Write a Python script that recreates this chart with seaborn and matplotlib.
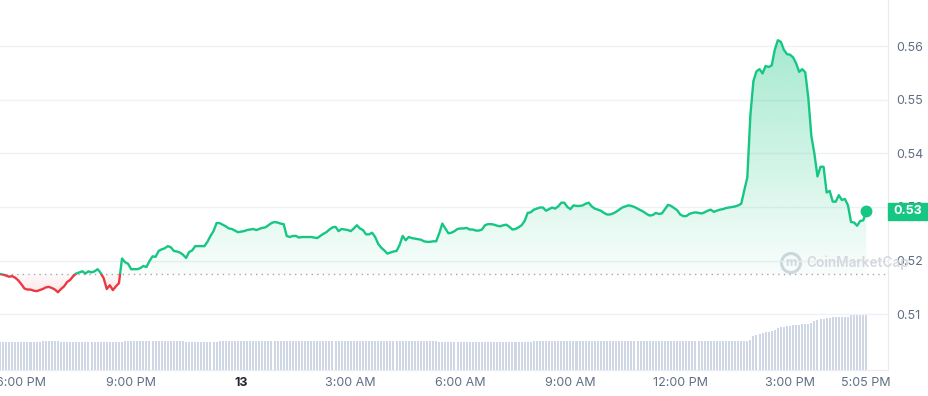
import matplotlib
matplotlib.use("Agg")
import matplotlib.pyplot as plt
import matplotlib.dates as mdates
from matplotlib.patches import Rectangle, Circle
from matplotlib.colors import to_rgb
from matplotlib import transforms
import numpy as np
import pandas as pd
import seaborn as sns

# 24h price chart, 5 minute steps
start_time = "2024-03-12 17:25"
open_price = 0.5175

price = [
    0.5175, 0.5174, 0.5172, 0.5170, 0.5171, 0.5168, 0.5163, 0.5156, 0.5148, 0.5146, 0.5146, 0.5144,
    0.5143, 0.5145, 0.5147, 0.5150, 0.5151, 0.5149, 0.5146, 0.5141, 0.5147, 0.5152, 0.5160, 0.5164,
    0.5171, 0.5176, 0.5178, 0.5180, 0.5176, 0.5180, 0.5178, 0.5180, 0.5184, 0.5177, 0.5167, 0.5147,
    0.5154, 0.5145, 0.5152, 0.5158, 0.5204, 0.5197, 0.5194, 0.5184, 0.5184, 0.5184, 0.5186, 0.5190,
    0.5188, 0.5199, 0.5208, 0.5207, 0.5218, 0.5221, 0.5223, 0.5227, 0.5225, 0.5218, 0.5217, 0.5215,
    0.5211, 0.5205, 0.5216, 0.5219, 0.5227, 0.5227, 0.5227, 0.5227, 0.5235, 0.5246, 0.5255, 0.5270,
    0.5270, 0.5267, 0.5264, 0.5260, 0.5259, 0.5256, 0.5253, 0.5254, 0.5255, 0.5257, 0.5258, 0.5259,
    0.5257, 0.5259, 0.5261, 0.5262, 0.5266, 0.5270, 0.5272, 0.5271, 0.5269, 0.5268, 0.5246, 0.5244,
    0.5246, 0.5246, 0.5243, 0.5244, 0.5244, 0.5244, 0.5244, 0.5243, 0.5242, 0.5246, 0.5250, 0.5253,
    0.5258, 0.5262, 0.5263, 0.5255, 0.5259, 0.5258, 0.5257, 0.5255, 0.5260, 0.5266, 0.5260, 0.5257,
    0.5249, 0.5249, 0.5252, 0.5244, 0.5231, 0.5224, 0.5219, 0.5213, 0.5215, 0.5217, 0.5218, 0.5229,
    0.5246, 0.5238, 0.5244, 0.5242, 0.5241, 0.5240, 0.5239, 0.5236, 0.5235, 0.5235, 0.5236, 0.5236,
    0.5251, 0.5269, 0.5260, 0.5251, 0.5252, 0.5255, 0.5259, 0.5260, 0.5260, 0.5261, 0.5258, 0.5258,
    0.5256, 0.5256, 0.5258, 0.5266, 0.5268, 0.5268, 0.5267, 0.5265, 0.5264, 0.5266, 0.5267, 0.5263,
    0.5258, 0.5259, 0.5262, 0.5266, 0.5274, 0.5289, 0.5290, 0.5295, 0.5297, 0.5299, 0.5299, 0.5293,
    0.5296, 0.5299, 0.5297, 0.5301, 0.5308, 0.5308, 0.5300, 0.5296, 0.5303, 0.5302, 0.5302, 0.5303,
    0.5306, 0.5308, 0.5301, 0.5297, 0.5295, 0.5293, 0.5289, 0.5286, 0.5286, 0.5288, 0.5291, 0.5295,
    0.5299, 0.5301, 0.5303, 0.5302, 0.5300, 0.5297, 0.5294, 0.5291, 0.5287, 0.5284, 0.5285, 0.5289,
    0.5287, 0.5288, 0.5296, 0.5304, 0.5302, 0.5298, 0.5294, 0.5286, 0.5283, 0.5283, 0.5287, 0.5289,
    0.5290, 0.5289, 0.5288, 0.5290, 0.5293, 0.5295, 0.5291, 0.5293, 0.5295, 0.5296, 0.5298, 0.5299,
    0.5300, 0.5301, 0.5303, 0.5306, 0.5331, 0.5355, 0.5471, 0.5535, 0.5553, 0.5557, 0.5549, 0.5563,
    0.5561, 0.5564, 0.5593, 0.5611, 0.5608, 0.5593, 0.5585, 0.5584, 0.5579, 0.5568, 0.5552, 0.5557,
    0.5551, 0.5503, 0.5432, 0.5399, 0.5357, 0.5375, 0.5375, 0.5327, 0.5330, 0.5310, 0.5310, 0.5322,
    0.5313, 0.5315, 0.5303, 0.5272, 0.5271, 0.5265, 0.5274, 0.5275, 0.5292,
]

# rolling 24h volume (millions USD), one bar per 5 min
volume = [
    280, 280, 280, 280, 280, 280, 280, 280, 280, 280, 280, 280,
    280, 280, 290, 290, 290, 290, 290, 290, 280, 280, 280, 280,
    280, 280, 280, 280, 280, 280, 280, 280, 280, 280, 280, 280,
    280, 280, 280, 280, 280, 288, 288, 288, 288, 288, 288, 288,
    288, 288, 288, 288, 288, 288, 288, 288, 288, 288, 288, 288,
    288, 280, 280, 280, 280, 280, 280, 280, 280, 280, 280, 280,
    288, 288, 288, 288, 288, 288, 288, 288, 288, 288, 288, 288,
    288, 288, 288, 288, 288, 286, 286, 286, 286, 286, 286, 286,
    286, 286, 286, 286, 286, 286, 286, 286, 286, 286, 286, 286,
    286, 286, 286, 286, 286, 286, 286, 286, 286, 286, 286, 286,
    286, 286, 286, 286, 286, 286, 286, 286, 286, 286, 286, 286,
    286, 286, 286, 286, 286, 286, 286, 286, 286, 286, 286, 286,
    278, 278, 278, 278, 278, 278, 278, 278, 278, 278, 278, 278,
    278, 278, 278, 278, 278, 278, 278, 278, 278, 278, 278, 278,
    278, 278, 278, 278, 278, 278, 278, 287, 287, 287, 287, 287,
    287, 287, 287, 287, 287, 287, 287, 287, 287, 287, 287, 287,
    287, 287, 287, 287, 287, 287, 287, 287, 287, 287, 287, 287,
    287, 287, 287, 287, 287, 287, 287, 287, 287, 287, 286, 286,
    286, 286, 286, 286, 286, 286, 286, 286, 286, 286, 286, 286,
    286, 286, 286, 286, 286, 286, 286, 286, 286, 286, 286, 286,
    286, 286, 286, 286, 286, 286, 300, 345, 350, 365, 370, 378,
    385, 392, 400, 425, 430, 433, 436, 440, 448, 450, 455, 458,
    460, 465, 472, 490, 505, 508, 512, 516, 520, 528, 532, 533,
    533, 534, 535, 548, 550, 550, 551, 552, 552,
]

y_ticks = [0.51, 0.52, 0.53, 0.54, 0.55, 0.56]
x_tick_times = ["2024-03-12 18:00", "2024-03-12 21:00", "2024-03-13 00:00",
                "2024-03-13 03:00", "2024-03-13 06:00", "2024-03-13 09:00",
                "2024-03-13 12:00", "2024-03-13 15:00", "2024-03-13 17:05"]
x_tick_labels = ["6:00 PM", "9:00 PM", "13", "3:00 AM", "6:00 AM",
                 "9:00 AM", "12:00 PM", "3:00 PM", "5:05 PM"]

GREEN = "#16c784"
RED = "#ea3943"
GREY = "#616e85"

df = pd.DataFrame({
    "time": pd.date_range(start_time, periods=len(price), freq="5min"),
    "price": price,
    "volume": volume,
})
xn = mdates.date2num(df["time"])

sns.set_style("white")
plt.rcParams["font.family"] = ["Inter", "DejaVu Sans"]

fig = plt.figure(figsize=(9.29, 3.96), dpi=100)
fig.patch.set_facecolor("white")
ax = fig.add_axes([0, 26 / 396, 888 / 929, 370 / 396])
ax_vol = ax.twinx()
ax.set_zorder(2)
ax_vol.set_zorder(1)
ax.patch.set_visible(False)

# volume bars at the bottom
ax_vol.bar(xn, df["volume"], width=3.3 / 1440, color="#cfd6e4", linewidth=0)
ax_vol.set_ylim(0, 3700)
ax_vol.set_yticks([])
ax_vol.xaxis.set_visible(False)
for s in ax_vol.spines.values():
    s.set_visible(False)

# price line, green above the open price and red below
sns.lineplot(data=df, x="time", y="price", color=GREEN, linewidth=1.7, ax=ax)
line_up = ax.lines[-1]
sns.lineplot(data=df, x="time", y="price", color=RED, linewidth=1.7, ax=ax)
line_down = ax.lines[-1]
line_up.set_zorder(4)
line_down.set_zorder(4)
line_up.set_clip_path(Rectangle((xn[0] - 1, open_price), xn[-1] - xn[0] + 2, 1,
                                transform=ax.transData))
line_down.set_clip_path(Rectangle((xn[0] - 1, open_price - 1), xn[-1] - xn[0] + 2, 1,
                                  transform=ax.transData))

# gradient area between the line and the open price
poly = ax.fill_between(xn, df["price"], open_price, color="none", linewidth=0)
clip = poly.get_paths()[0]

g_up = np.zeros((256, 1, 4))
g_up[..., :3] = to_rgb(GREEN)
g_up[:, 0, 3] = np.linspace(0.38, 0.03, 256)
im_up = ax.imshow(g_up, extent=[xn[0], xn[-1], open_price, max(price)],
                  aspect="auto", origin="upper", zorder=1, interpolation="bilinear")
im_up.set_clip_path(clip, ax.transData)

g_dn = np.zeros((256, 1, 4))
g_dn[..., :3] = to_rgb(RED)
g_dn[:, 0, 3] = np.linspace(0.02, 0.12, 256)
im_dn = ax.imshow(g_dn, extent=[xn[0], xn[-1], min(price), open_price],
                  aspect="auto", origin="upper", zorder=1, interpolation="bilinear")
im_dn.set_clip_path(clip, ax.transData)

ax.axhline(open_price, color="#a1a7bb", linewidth=1, linestyle=(0, (1, 3)), zorder=3)
ax.plot(xn[-1], price[-1], "o", color=GREEN, markersize=7.5, zorder=5)

# axes limits and ticks
ax.set_xlim(xn[0], xn[0] + 24.26 / 24)
ax.set_ylim(0.4996, 0.5686)
ax.set_xlabel("")
ax.set_ylabel("")

ax.yaxis.tick_right()
ax.set_yticks(y_ticks)
ax.set_yticklabels([f"{v:.2f}" for v in y_ticks])
ax.tick_params(axis="y", length=0, pad=5.8, labelsize=9, labelcolor=GREY)

ax.set_xticks(mdates.date2num(pd.to_datetime(x_tick_times)))
ax.set_xticklabels(x_tick_labels)
ax.tick_params(axis="x", length=0, pad=5, labelsize=9, labelcolor=GREY)
bold_lbl = ax.get_xticklabels()[2]
bold_lbl.set_fontweight("bold")
bold_lbl.set_color("#222531")

ax.yaxis.grid(True, color="#eff2f5", linewidth=1)
ax.xaxis.grid(False)
ax.spines["left"].set_visible(False)
ax.spines["top"].set_visible(False)
ax.spines["right"].set_color("#e9ecf1")
ax.spines["bottom"].set_color("#e9ecf1")

# current price tag on the right axis
trans = transforms.blended_transform_factory(ax.transAxes, ax.transData)
ax.add_patch(Rectangle((1.0, price[-1] - 0.0016), 40 / 888, 0.0032, transform=trans,
                       color=GREEN, clip_on=False, zorder=6))
ax.text(1.0 + 20 / 888, price[-1], f"{price[-1]:.2f}", transform=trans, ha="center",
        va="center", color="white", fontsize=9, fontweight="bold", clip_on=False, zorder=7)

# watermark
fig.add_artist(Circle((7.91, 1.33), 0.095, transform=fig.dpi_scale_trans,
                      fill=False, edgecolor="#cdd2da", linewidth=2.2, alpha=0.85))
fig.text(7.91 / 9.29, 1.33 / 3.96, "m", ha="center", va="center", fontsize=9,
         fontweight="bold", color="#cdd2da", alpha=0.85)
fig.text(806 / 929, 1.33 / 3.96, "CoinMarketCap", ha="left", va="center",
         fontsize=9.8, fontweight="semibold", color="#cdd2da", alpha=0.85)

fig.savefig("out.png", dpi=100, facecolor="white")
